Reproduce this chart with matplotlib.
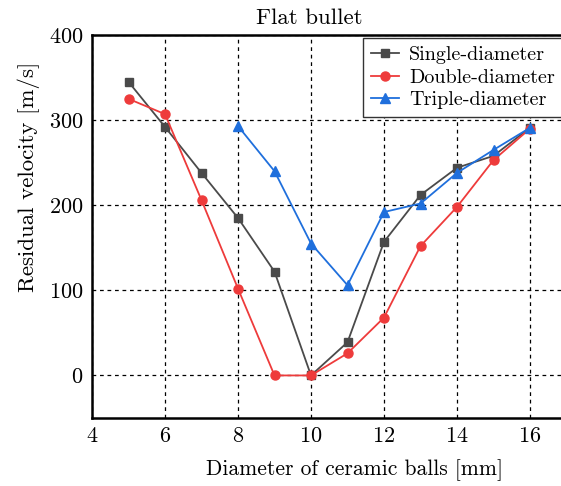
import numpy as np
import matplotlib
matplotlib.use('Agg')
import matplotlib.pyplot as plt

plt.rcParams['font.family'] = ['cmr10', 'DejaVu Serif']
plt.rcParams['mathtext.fontset'] = 'cm'
plt.rcParams['axes.formatter.use_mathtext'] = True

# data
x_single = [5, 6, 7, 8, 9, 10, 11, 12, 13, 14, 15, 16]
v_single = [345, 292, 238, 185, 122, 0, 39, 157, 212, 244, 258, 291]

x_double = [5, 6, 7, 8, 9, 10, 11, 12, 13, 14, 15, 16]
v_double = [325, 307, 206, 102, 0, 0, 26, 68, 152, 198, 253, 290]

x_triple = [8, 9, 10, 11, 12, 13, 14, 15, 16]
v_triple = [293, 240, 155, 106, 192, 202, 238, 265, 291]

xticks = [4, 6, 8, 10, 12, 14, 16]
yticks = [0, 100, 200, 300, 400]

fig = plt.figure(figsize=(5.61, 4.86), dpi=100)
ax = fig.add_axes([92/561, 1-418/486, 480/561, (418-35)/486])

ax.plot(x_single, v_single, color='#4a4a4a', marker='s', ms=6, lw=1.3, label='Single-diameter', zorder=3)
ax.plot(x_double, v_double, color='#ee3b3b', marker='o', ms=6.5, lw=1.3, label='Double-diameter', zorder=3)
ax.plot(x_triple, v_triple, color='#1f6fdc', marker='^', ms=7, lw=1.3, label='Triple-diameter', zorder=3)

ax.set_xlim(4, 4 + 480/36.5)
ax.set_ylim(-50, 400)
ax.set_xticks(xticks)
ax.set_yticks(yticks)
ax.tick_params(length=0, labelsize=16, pad=6)
ax.grid(True, color='black', linestyle=(0, (3, 3)), lw=0.9)
ax.spines['right'].set_visible(False)
for s in ['left', 'bottom', 'top']:
    ax.spines[s].set_linewidth(1.8)

ax.text((309-92)/480, (418-18)/383, 'Flat bullet', transform=ax.transAxes,
        fontsize=16.5, ha='center', va='center')
ax.set_xlabel('Diameter of ceramic balls [mm]', fontsize=15.5)
ax.xaxis.set_label_coords((355-92)/480, -(459-418)/383)
ax.set_ylabel('Residual velocity [m/s]', fontsize=16.5)
ax.yaxis.set_label_coords(-(92-40)/480, (418-177)/383)

leg = ax.legend(loc='upper left', bbox_to_anchor=((363-92)/480, (418-38)/383),
                fontsize=14.5, fancybox=False, framealpha=1, edgecolor='#333333',
                borderaxespad=0, handlelength=1.4, labelspacing=0.22, borderpad=0.4,
                handletextpad=0.5)
leg.get_frame().set_linewidth(1.0)

fig.savefig('out.png', dpi=100)
